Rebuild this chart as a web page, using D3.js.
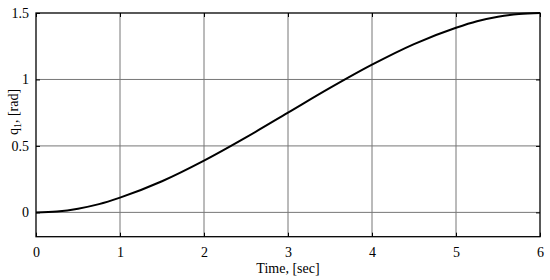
<!DOCTYPE html>
<html><head><meta charset="utf-8">
<script src="https://cdn.jsdelivr.net/npm/d3@7"></script>
<style>body{margin:0;background:#fff}svg{display:block}text{font-family:"Liberation Serif","Times New Roman",serif;fill:#000}</style>
</head><body><svg id="c" width="550" height="280"></svg>
<script>
const timeValues = [0,0.25,0.5,0.75,1,1.5,2,2.5,3,3.5,4,4.5,5,5.25,5.5,5.75,6];
const qValues = [0,0.007,0.028,0.062,0.111,0.234,0.389,0.564,0.75,0.936,1.111,1.266,1.389,1.438,1.472,1.493,1.5];
const xTicks = [0,1,2,3,4,5,6];
const yTicks = [0,0.5,1,1.5];
const yTickLabels = ["0","0.5","1","1.5"];

const svg = d3.select("#c");
const L=36, R=540, T=13, B=236.7;
const x = d3.scaleLinear().domain([0,6]).range([L,R]);
const y = d3.scaleLinear().domain([-0.183,1.5]).range([B,T]);

// grid
svg.append("g").selectAll("line").data(xTicks.slice(1,-1)).join("line")
  .attr("x1",d=>x(d)).attr("x2",d=>x(d)).attr("y1",T).attr("y2",B)
  .attr("stroke","#777").attr("stroke-width",1);
svg.append("g").selectAll("line").data(yTicks.slice(0,-1)).join("line")
  .attr("x1",L).attr("x2",R).attr("y1",d=>y(d)).attr("y2",d=>y(d))
  .attr("stroke","#777").attr("stroke-width",1);

// axes
const xa = svg.append("g").attr("transform",`translate(0,${B})`)
  .call(d3.axisBottom(x).tickValues(xTicks).tickSize(-4).tickPadding(10).tickFormat(d3.format("d")));
const xt = svg.append("g").attr("transform",`translate(0,${T})`)
  .call(d3.axisTop(x).tickValues(xTicks).tickSize(-4).tickFormat(""));
const ya = svg.append("g").attr("transform",`translate(${L},0)`)
  .call(d3.axisLeft(y).tickValues(yTicks).tickSize(-4).tickPadding(7).tickFormat((d,i)=>yTickLabels[i]));
const yr = svg.append("g").attr("transform",`translate(${R},0)`)
  .call(d3.axisRight(y).tickValues(yTicks).tickSize(-4).tickFormat(""));
[xa,xt,ya,yr].forEach(g=>{
  g.attr("font-family",null).attr("font-size",null);
  g.select(".domain").remove();
  g.selectAll("line").attr("stroke","#000");
  g.selectAll("text").style("font-size","14px").attr("fill","#000");
});
svg.append("rect").attr("x",L).attr("y",T).attr("width",R-L).attr("height",B-T)
  .attr("fill","none").attr("stroke","#000").attr("stroke-width",1.3);

// curve
const pts = timeValues.map((t,i)=>[t,qValues[i]]);
svg.append("path").datum(pts)
  .attr("d",d3.line().x(d=>x(d[0])).y(d=>y(d[1])).curve(d3.curveMonotoneX))
  .attr("fill","none").attr("stroke","#000").attr("stroke-width",2);

// labels
svg.append("text").attr("x",(L+R)/2).attr("y",273).attr("text-anchor","middle")
  .style("font-size","14px").text("Time, [sec]");
const yl = svg.append("text").attr("transform",`translate(18,112) rotate(-90)`)
  .attr("text-anchor","middle").style("font-size","14px");
yl.append("tspan").text("q");
yl.append("tspan").attr("dy",3).style("font-size","10px").text("1");
yl.append("tspan").attr("dy",-3).text(", [rad]");
</script></body></html>
